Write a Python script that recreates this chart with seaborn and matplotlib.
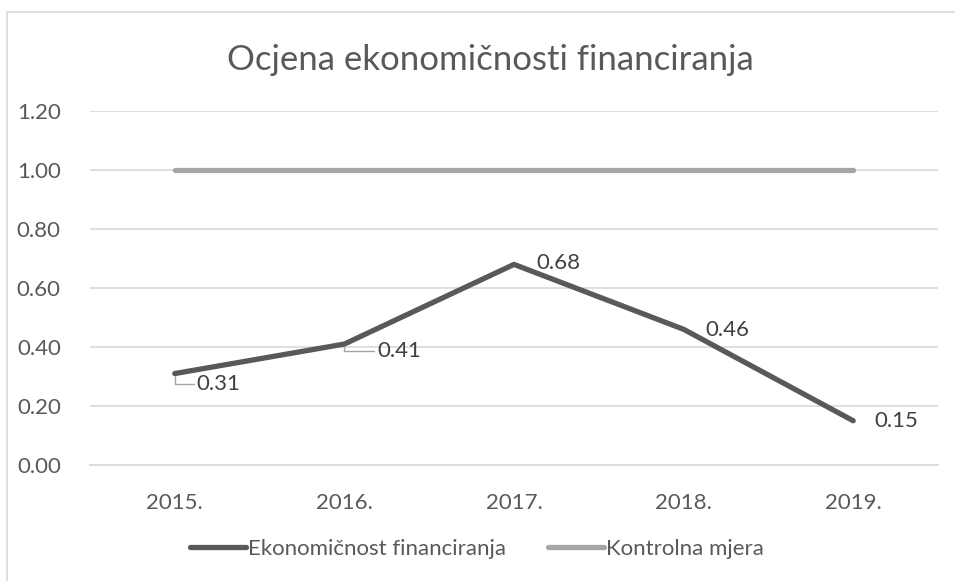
import matplotlib
matplotlib.use("Agg")
import matplotlib.pyplot as plt
import seaborn as sns
import pandas as pd
from matplotlib.patches import Rectangle

years = ["2015.", "2016.", "2017.", "2018.", "2019."]
ekonomicnost = [0.31, 0.41, 0.68, 0.46, 0.15]
kontrolna = [1.00, 1.00, 1.00, 1.00, 1.00]
y_ticks = [0.0, 0.2, 0.4, 0.6, 0.8, 1.0, 1.2]

sns.set_style("white")
plt.rcParams['font.family'] = ['Lato', 'DejaVu Sans']

df = pd.DataFrame({
    "Godina": years * 2,
    "Vrijednost": ekonomicnost + kontrolna,
    "Serija": ["Ekonomičnost financiranja"] * 5 + ["Kontrolna mjera"] * 5,
})

text_col = "#595959"
fig = plt.figure(figsize=(9.55, 5.81), dpi=100)
ax = fig.add_axes([90 / 955, 1 - 465 / 581, 848 / 955, 354 / 581])

# outer chart border
fig.patches.append(Rectangle((7 / 955, -0.1), 1.2, 1 - 12 / 581 + 0.1,
                             transform=fig.transFigure, fill=False,
                             edgecolor="#D9D9D9", linewidth=1.2))

sns.lineplot(data=df, x="Godina", y="Vrijednost", hue="Serija",
             palette=["#595959", "#A5A5A5"], linewidth=3.8, sort=False,
             ax=ax, legend=False)
for line in ax.lines:
    line.set_solid_capstyle("round")
    line.set_solid_joinstyle("round")

ax.set_xlim(-0.5, 4.5)
ax.set_ylim(0, 1.2)
ax.set_yticks(y_ticks)
ax.set_yticklabels([f"{v:.2f}" for v in y_ticks])
ax.yaxis.grid(True, color="#D9D9D9", linewidth=1.2)
ax.set_axisbelow(True)
for s in ax.spines.values():
    s.set_visible(False)
ax.spines["bottom"].set_visible(True)
ax.spines["bottom"].set_color("#D9D9D9")
ax.spines["bottom"].set_linewidth(1.2)
ax.tick_params(axis="both", length=0, labelsize=16, labelcolor=text_col)
ax.tick_params(axis="y", pad=21)
ax.tick_params(axis="x", pad=20)
ax.set_xlabel("")
ax.set_ylabel("")

# data labels
offsets = [(22, -10), (33, -7), (22, 1), (22, -1), (21, 0)]
leaders = [True, True, False, False, False]
for i, (v, off, lead) in enumerate(zip(ekonomicnost, offsets, leaders)):
    props = None
    if lead:
        props = dict(arrowstyle="-", color="#A5A5A5", lw=1,
                     connectionstyle="angle,angleA=0,angleB=90,rad=0",
                     shrinkA=0, shrinkB=2)
    ax.annotate(f"{v:.2f}", xy=(i, v), xytext=off, textcoords="offset pixels",
                ha="left", va="center", fontsize=16, color="#404040",
                arrowprops=props)

fig.text(0.513, 1 - 60 / 581, "Ocjena ekonomičnosti financiranja",
         ha="center", va="center", fontsize=25, color=text_col)

handles = [plt.Line2D([], [], color="#595959", lw=3.8, solid_capstyle="round"),
           plt.Line2D([], [], color="#A5A5A5", lw=3.8, solid_capstyle="round")]
fig.legend(handles, ["Ekonomičnost financiranja", "Kontrolna mjera"],
           loc="center", bbox_to_anchor=(0.4995, 1 - 549 / 581), ncol=2,
           frameon=False, fontsize=16, labelcolor=text_col,
           handlelength=2.5, handletextpad=0.1, columnspacing=1.9)

fig.savefig("out.png", dpi=100)
